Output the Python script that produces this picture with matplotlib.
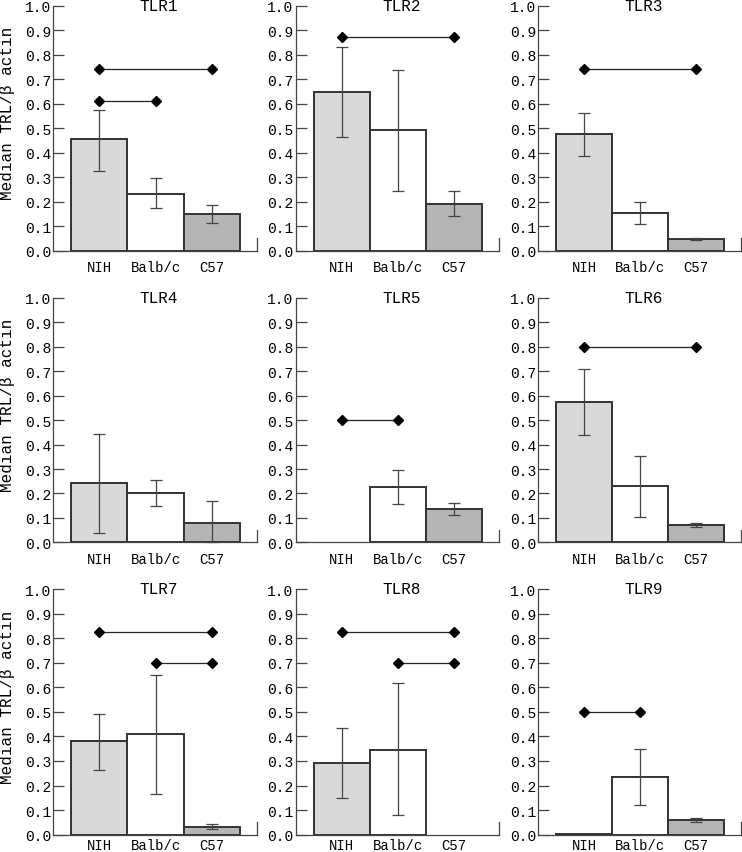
import matplotlib
matplotlib.use("Agg")
import matplotlib.pyplot as plt

titles = ['TLR1', 'TLR2', 'TLR3', 'TLR4', 'TLR5', 'TLR6', 'TLR7', 'TLR8', 'TLR9']
strains = ['NIH', 'Balb/c', 'C57']

nih_med = [0.455, 0.648, 0.475, 0.243, None, 0.575, 0.380, 0.290, 0.003]
nih_lo = [0.325, 0.465, 0.385, 0.038, None, 0.440, 0.265, 0.150, None]
nih_hi = [0.575, 0.830, 0.563, 0.443, None, 0.708, 0.490, 0.433, None]

balb_med = [0.232, 0.492, 0.152, 0.202, 0.228, 0.230, 0.408, 0.345, 0.235]
balb_lo = [0.173, 0.242, 0.108, 0.150, 0.158, 0.105, 0.165, 0.082, 0.120]
balb_hi = [0.298, 0.737, 0.197, 0.253, 0.295, 0.352, 0.650, 0.617, 0.347]

c57_med = [0.148, 0.192, 0.048, 0.077, 0.135, 0.070, 0.033, None, 0.060]
c57_lo = [0.115, 0.140, 0.045, 0.000, 0.112, 0.062, 0.022, None, 0.052]
c57_hi = [0.188, 0.245, 0.051, 0.168, 0.160, 0.078, 0.045, None, 0.068]

# significance brackets: (panel, group a, group b, height)
sig_panel = [0, 0, 1, 2, 4, 5, 6, 6, 7, 7, 8]
sig_a = [0, 0, 0, 0, 0, 0, 0, 1, 0, 1, 0]
sig_b = [2, 1, 2, 2, 1, 2, 2, 2, 2, 2, 1]
sig_y = [0.74, 0.612, 0.872, 0.74, 0.50, 0.80, 0.825, 0.70, 0.825, 0.70, 0.50]

yticks = [0.0, 0.1, 0.2, 0.3, 0.4, 0.5, 0.6, 0.7, 0.8, 0.9, 1.0]

bar_colors = ['#d9d9d9', '#ffffff', '#b5b5b5']
edge = '#333333'
font = 'Liberation Mono'

W, H = 742, 853
fig = plt.figure(figsize=(W / 100, H / 100), dpi=100)

col_left = [53, 295.7, 538.3]
col_w = [204, 203.3, 202.4]
row_top = [6.7, 299, 590]
row_bot = [251.7, 543.3, 835.7]
xpad = [7, 7, 2.5]

meds = [nih_med, balb_med, c57_med]
los = [nih_lo, balb_lo, c57_lo]
his = [nih_hi, balb_hi, c57_hi]

for p in range(9):
    r, c = divmod(p, 3)
    ax = fig.add_axes([col_left[c] / W, 1 - row_bot[r] / H,
                       col_w[c] / W, (row_bot[r] - row_top[r]) / H])
    for g in range(3):
        m = meds[g][p]
        if m is None:
            continue
        ax.bar(g, m, width=1.0, color=bar_colors[g], edgecolor=edge,
               linewidth=1.4, zorder=2)
        lo, hi = los[g][p], his[g][p]
        if lo is not None:
            ax.errorbar(g, m, yerr=[[m - lo], [hi - m]], fmt='none',
                        ecolor='#444444', elinewidth=0.9, capsize=4,
                        capthick=0.9, zorder=3, clip_on=False)
    for k in range(len(sig_panel)):
        if sig_panel[k] != p:
            continue
        ax.plot([sig_a[k], sig_b[k]], [sig_y[k], sig_y[k]], color='#222222',
                lw=0.9, marker='D', ms=5.5, mfc='black', mec='black',
                zorder=4, clip_on=False)
    ax.set_xlim(-0.82, 2.8)
    ax.set_ylim(0, 1.0)
    ax.set_xticks(range(3))
    ax.set_xticklabels(strains, fontfamily=font, fontsize=10)
    ax.set_yticks(yticks)
    ax.set_yticklabels(['%.1f' % t for t in yticks], fontfamily=font, fontsize=10.5)
    ax.tick_params(axis='x', length=0, pad=xpad[r])
    ax.tick_params(axis='y', direction='in', length=8, width=0.9,
                   color='#444444', pad=1.5)
    ax.spines['top'].set_visible(False)
    for s in ['left', 'bottom', 'right']:
        ax.spines[s].set_color('#444444')
        ax.spines[s].set_linewidth(0.9)
    ax.spines['right'].set_bounds(0, 0.05)
    ax.text(0.52, 1.0, titles[p], transform=ax.get_yaxis_transform(),
            ha='center', va='center', fontfamily=font, fontsize=11.5)
    if c == 0:
        ax.set_ylabel('Median TRL/β actin', fontfamily=font, fontsize=11.5)
        ax.yaxis.set_label_coords(-0.185, 0.565)

fig.savefig('out.png', dpi=100)
